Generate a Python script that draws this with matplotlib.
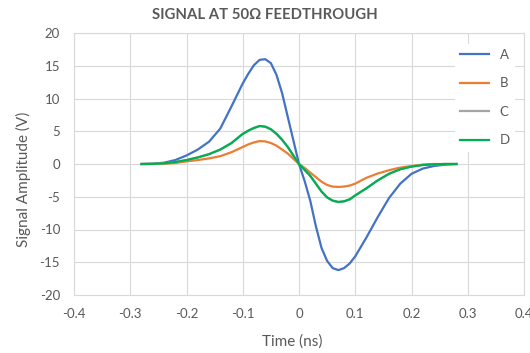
import matplotlib
matplotlib.use("Agg")
import matplotlib.pyplot as plt

plt.rcParams['font.family'] = ['Lato', 'DejaVu Sans']
plt.rcParams['axes.unicode_minus'] = False

time_ns = [-0.28, -0.26, -0.24, -0.22, -0.20, -0.18, -0.16, -0.14, -0.12, -0.10,
           -0.09, -0.08, -0.07, -0.06, -0.05, -0.04, -0.03, -0.02, -0.01, 0.0,
           0.01, 0.02, 0.03, 0.04, 0.05, 0.06, 0.07, 0.08, 0.09, 0.10,
           0.12, 0.14, 0.16, 0.18, 0.20, 0.22, 0.24, 0.26, 0.28]

sig_a = [0.0, 0.05, 0.2, 0.6, 1.3, 2.2, 3.4, 5.4, 8.8, 12.3,
         13.8, 15.1, 15.9, 16.0, 15.4, 13.6, 10.8, 7.2, 3.6, 0.0,
         -2.6, -5.6, -9.5, -12.8, -14.8, -15.9, -16.2, -15.9, -15.2, -14.1,
         -11.2, -8.1, -5.2, -3.0, -1.5, -0.7, -0.3, -0.1, 0.0]

sig_b = [0.0, 0.01, 0.05, 0.15, 0.4, 0.6, 0.85, 1.2, 1.8, 2.6,
         3.0, 3.3, 3.5, 3.45, 3.2, 2.8, 2.2, 1.6, 0.8, 0.0,
         -0.6, -1.3, -2.0, -2.7, -3.2, -3.45, -3.5, -3.45, -3.3, -3.0,
         -2.1, -1.45, -0.95, -0.55, -0.3, -0.1, 0.0, 0.0, 0.0]

sig_d = [0.0, 0.02, 0.1, 0.3, 0.6, 1.0, 1.5, 2.2, 3.2, 4.6,
         5.1, 5.5, 5.8, 5.7, 5.3, 4.6, 3.7, 2.6, 1.3, 0.0,
         -0.9, -1.8, -3.0, -4.2, -5.1, -5.6, -5.8, -5.7, -5.4, -4.8,
         -3.7, -2.5, -1.5, -0.8, -0.4, -0.15, -0.05, 0.0, 0.0]

# C sits exactly under D in the original
sig_c = list(sig_d)

series = [("A", sig_a, "#4472C4"),
          ("B", sig_b, "#ED7D31"),
          ("C", sig_c, "#A5A5A5"),
          ("D", sig_d, "#00B050")]

x_ticks = [-0.4, -0.3, -0.2, -0.1, 0, 0.1, 0.2, 0.3, 0.4]
x_labels = ["-0.4", "-0.3", "-0.2", "-0.1", "0", "0.1", "0.2", "0.3", "0.4"]
y_ticks = [-20, -15, -10, -5, 0, 5, 10, 15, 20]

text_col = "#595959"
grid_col = "#D9D9D9"

fig = plt.figure(figsize=(5.3, 3.53), dpi=100)
ax = fig.add_axes([74 / 530, 1 - 295 / 353, 450 / 530, 262 / 353])

for name, vals, col in series:
    ax.plot(time_ns, vals, color=col, lw=1.6, label=name)

ax.set_xlim(-0.4, 0.4)
ax.set_ylim(-20, 20)
ax.set_xticks(x_ticks)
ax.set_xticklabels(x_labels)
ax.set_yticks(y_ticks)
ax.grid(True, color=grid_col, lw=0.8)
ax.set_axisbelow(True)
for sp in ax.spines.values():
    sp.set_color(grid_col)
    sp.set_linewidth(0.8)
ax.tick_params(length=0, labelsize=9.5, colors=text_col)
ax.tick_params(axis='y', pad=10)
ax.tick_params(axis='x', pad=9)

ax.set_xlabel("Time (ns)", fontsize=11, color=text_col)
ax.set_ylabel("Signal Amplitude (V)", fontsize=11, color=text_col)
ax.xaxis.set_label_coords(0.484, -0.152)
ax.yaxis.set_label_coords(-0.096, 0.44)

fig.text(0.5, 1 - 15 / 353, "SIGNAL AT 50\u03a9 FEEDTHROUGH", ha='center', va='center',
         fontsize=10.7, fontweight='bold', color=text_col)

leg = ax.legend(loc='upper right', bbox_to_anchor=(0.995, 0.985), frameon=True,
                fontsize=9.5, handlelength=2.2, labelspacing=1.25, borderpad=0.4)
leg.get_frame().set_facecolor('white')
leg.get_frame().set_edgecolor('none')
leg.get_frame().set_alpha(1)
for t in leg.get_texts():
    t.set_color(text_col)

fig.savefig("out.png", dpi=100)
